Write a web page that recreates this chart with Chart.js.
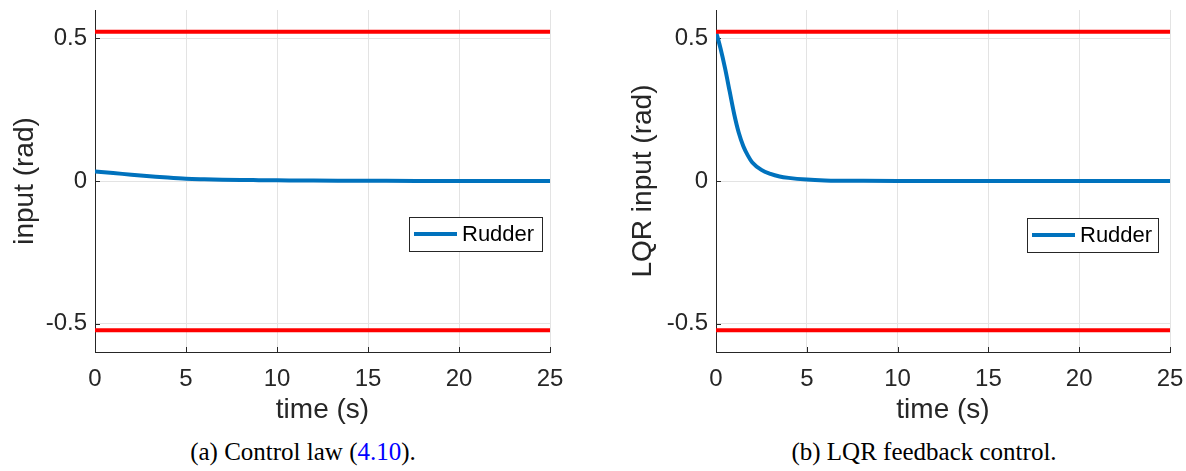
<!DOCTYPE html>
<html>
<head>
<meta charset="utf-8">
<script src="https://cdn.jsdelivr.net/npm/chart.js@4"></script>
<style>
  body { margin: 0; width: 1186px; height: 471px; background: #fff; overflow: hidden; position: relative; }
  canvas { position: absolute; top: 0; }
  #left { left: 0; }
  #right { left: 600px; }
  .caption { position: absolute; top: 438px; transform: translateX(-50%); white-space: nowrap;
    font-family: "Liberation Serif", "DejaVu Serif", serif; font-size: 25px; color: #000; }
  .ref { color: #0000ff; }
</style>
</head>
<body>
<canvas id="left" width="580" height="432"></canvas>
<canvas id="right" width="586" height="432"></canvas>
<div class="caption" style="left:303px">(a) Control law (<span class="ref">4.10</span>).</div>
<div class="caption" style="left:924px">(b) LQR feedback control.</div>
<script>
// données
const xTicks = [0, 5, 10, 15, 20, 25];
const yTicks = [-0.5, 0, 0.5];
const limitTime = [0, 25];
const upperLimit = [0.5236, 0.5236];
const lowerLimit = [-0.5236, -0.5236];

// (a) loi de commande
const leftTime = [0, 1, 2, 3, 4, 5, 6, 7, 8, 9, 10, 12, 14, 16, 18, 20, 25];
const leftRudder = [0.033, 0.028, 0.022, 0.017, 0.012, 0.008, 0.006, 0.0045, 0.0035, 0.003, 0.0025, 0.0015, 0.001, 0.0005, 0.0003, 0.0002, 0];

// (b) LQR
const rightTime = [0, 0.25, 0.5, 0.75, 1, 1.25, 1.5, 1.75, 2, 2.5, 3, 3.5, 4, 5, 6, 7, 8, 10, 15, 20, 25];
const rightRudder = [0.524, 0.465, 0.395, 0.315, 0.235, 0.17, 0.123, 0.09, 0.065, 0.039, 0.025, 0.016, 0.011, 0.005, 0.002, 0.001, 0.0005, 0, 0, 0, 0];

const FONT = '"Liberation Sans", Arial, sans-serif';
const AXIS = '#262626';
const BLUE = '#0072BD';
const RED = '#ff0000';

const toPoints = (xs, ys) => xs.map((x, i) => ({ x, y: ys[i] }));

// petits traits vers l'intérieur, comme MATLAB
const inwardTicks = {
  id: 'inwardTicks',
  beforeDatasetsDraw(chart) {
    const { ctx, chartArea, scales: { x, y } } = chart;
    ctx.save();
    ctx.strokeStyle = AXIS;
    ctx.lineWidth = 1;
    ctx.beginPath();
    x.ticks.forEach((t) => {
      const px = Math.round(x.getPixelForValue(t.value)) + 0.5;
      ctx.moveTo(px, chartArea.bottom);
      ctx.lineTo(px, chartArea.bottom - 5);
    });
    y.ticks.forEach((t) => {
      const py = Math.round(y.getPixelForValue(t.value)) + 0.5;
      ctx.moveTo(chartArea.left, py);
      ctx.lineTo(chartArea.left + 5, py);
    });
    ctx.stroke();
    ctx.restore();
  },
};

// légende dans le cadre
const boxLegend = {
  id: 'boxLegend',
  afterDatasetsDraw(chart, args, opts) {
    const { ctx, chartArea } = chart;
    const w = opts.width, h = 34;
    const x0 = chartArea.right - opts.inset - w;
    const y0 = opts.top;
    ctx.save();
    ctx.fillStyle = '#fff';
    ctx.fillRect(x0, y0, w, h);
    ctx.strokeStyle = AXIS;
    ctx.lineWidth = 1;
    ctx.strokeRect(Math.round(x0) + 0.5, Math.round(y0) + 0.5, w, h);
    ctx.strokeStyle = BLUE;
    ctx.lineWidth = 4;
    ctx.beginPath();
    ctx.moveTo(x0 + 5, y0 + h / 2);
    ctx.lineTo(x0 + 48, y0 + h / 2);
    ctx.stroke();
    ctx.fillStyle = '#000';
    ctx.font = '22px ' + FONT;
    ctx.textBaseline = 'middle';
    ctx.fillText('Rudder', x0 + 53, y0 + h / 2 + 1);
    ctx.restore();
  },
};

const noPad = (s) => { s.paddingTop = 0; s.paddingBottom = 0; s.paddingLeft = 0; s.paddingRight = 0; };

function makeChart(id, time, rudder, yTitle, opts) {
  new Chart(document.getElementById(id), {
    type: 'line',
    data: {
      datasets: [
        { data: toPoints(limitTime, upperLimit), borderColor: RED, borderWidth: 4, pointRadius: 0, order: 0 },
        { data: toPoints(limitTime, lowerLimit), borderColor: RED, borderWidth: 4, pointRadius: 0, order: 0 },
        { label: 'Rudder', data: toPoints(time, rudder), borderColor: BLUE, borderWidth: 4, pointRadius: 0,
          cubicInterpolationMode: 'monotone', order: 1 },
      ],
    },
    plugins: [inwardTicks, boxLegend],
    options: {
      responsive: false,
      animation: false,
      devicePixelRatio: 1,
      layout: { padding: { top: 10, right: opts.padRight, left: 0, bottom: 0 } },
      plugins: {
        legend: { display: false },
        tooltip: { enabled: false },
        boxLegend: opts.legend,
      },
      scales: {
        x: {
          type: 'linear',
          min: 0,
          max: 25,
          afterBuildTicks: (s) => { s.ticks = xTicks.map((v) => ({ value: v })); },
          afterFit: (s) => { s.height = 80; noPad(s); },
          grid: { color: '#e3e3e3', drawTicks: false },
          border: { color: AXIS, width: 1 },
          ticks: { padding: 13, color: AXIS, font: { family: FONT, size: 24 } },
          title: { display: true, text: 'time (s)', color: AXIS, font: { family: FONT, size: 28 },
            padding: { top: 0, bottom: 5 } },
        },
        y: {
          min: -0.6,
          max: 0.6,
          afterBuildTicks: (s) => { s.ticks = yTicks.map((v) => ({ value: v })); },
          afterFit: (s) => { s.width = opts.yWidth; noPad(s); },
          grid: { color: '#e3e3e3', drawTicks: false },
          border: { color: AXIS, width: 1 },
          ticks: { padding: 8, color: AXIS, font: { family: FONT, size: 24 }, callback: (v) => String(v) },
          title: { display: true, text: yTitle, color: AXIS, font: { family: FONT, size: 28 },
            padding: { top: opts.titlePad, bottom: 0 } },
        },
      },
    },
  });
}

makeChart('left', leftTime, leftRudder, 'input (rad)',
  { padRight: 30, yWidth: 95, titlePad: 8, legend: { inset: 8, top: 217, width: 133 } });
makeChart('right', rightTime, rightRudder, 'LQR input (rad)',
  { padRight: 16, yWidth: 116, titlePad: 26, legend: { inset: 12, top: 218, width: 131 } });
</script>
</body>
</html>
